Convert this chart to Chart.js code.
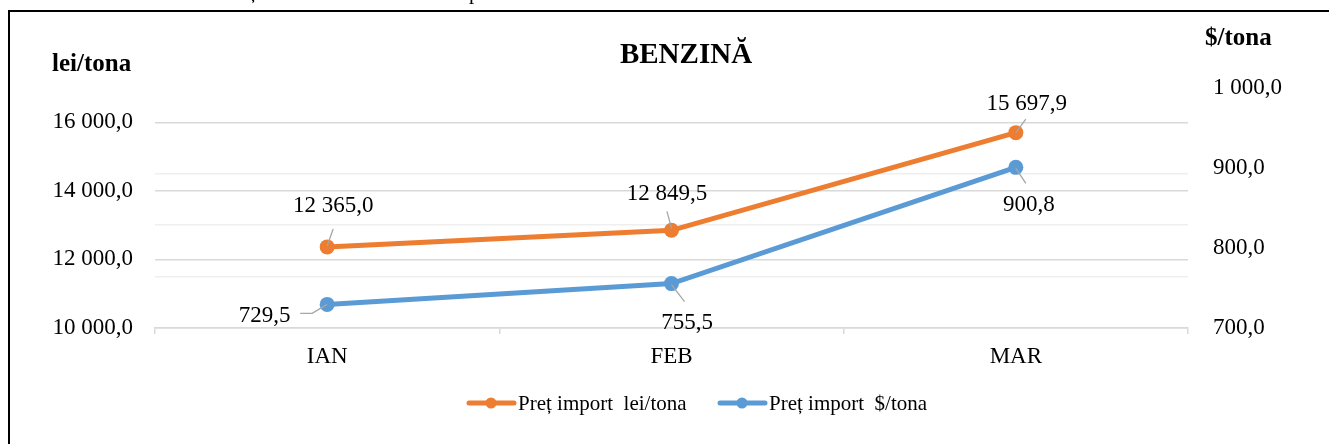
<!DOCTYPE html>
<html lang="ro">
<head>
<meta charset="UTF-8">
<title>Benzină</title>
<script src="https://cdn.jsdelivr.net/npm/chart.js"></script>
<style>
  body { margin: 0; background: #fff; overflow: hidden; }
  #frame { position: absolute; left: 8px; top: 10px; width: 1400px; height: 500px; border-left: 2px solid #000; border-top: 2px solid #000; }
  #wrap { position: absolute; left: 0; top: 0; width: 1329px; height: 444px; }
</style>
</head>
<body>
<div id="frame"></div>
<div id="wrap"><canvas id="chart"></canvas></div>
<script>
// data
const months = ['IAN', 'FEB', 'MAR'];
const priceLei = [12365.0, 12849.5, 15697.9];
const priceUsd = [729.5, 755.5, 900.8];
const seriesNames = ['Preț import  lei/tona', 'Preț import  $/tona'];
const chartTitle = 'BENZINĂ';
const leftAxisTitle = 'lei/tona';
const rightAxisTitle = '$/tona';

// label placement, relative to each point: text centre x, baseline y, leader path
const leiLabelPos = [
  { dx: 6, dy: -35, path: [[6, -18], [0, -1]] },
  { dx: -4.5, dy: -30, path: [[-4.5, -19], [0, -2]] },
  { dx: 11, dy: -22.5, path: [[10, -13.5], [0, 0]] }
];
const usdLabelPos = [
  { dx: -62.5, dy: 18, path: [[-27, 9], [-15, 9], [0, 0]] },
  { dx: 15.5, dy: 45, path: [[0, 1], [13, 18]] },
  { dx: 13, dy: 44, path: [[0, 1], [10, 16]] }
];

const ORANGE = '#ED7D31';
const BLUE = '#5B9BD5';
const SERIF = "'Liberation Serif', 'Times New Roman', serif";

Chart.defaults.font.family = SERIF;
Chart.defaults.color = '#000';

function fmt(v) {
  const parts = v.toFixed(1).split('.');
  return parts[0].replace(/\B(?=(\d{3})+(?!\d))/g, ' ') + ',' + parts[1];
}

const decor = {
  id: 'decor',
  afterDraw(chart) {
    const ctx = chart.ctx;
    ctx.save();
    ctx.fillStyle = '#000';
    ctx.textBaseline = 'alphabetic';

    // bits of the text line above the frame (cut off)
    ctx.font = '21px ' + SERIF;
    ctx.textAlign = 'left';
    ctx.fillText('ș', 249, -1);
    ctx.fillText('p', 469, -1);

    // titles
    ctx.font = 'bold 29px ' + SERIF;
    ctx.textAlign = 'center';
    ctx.fillText(chartTitle, 686, 63);
    ctx.font = 'bold 25px ' + SERIF;
    ctx.textAlign = 'left';
    ctx.fillText(leftAxisTitle, 52, 71);
    ctx.fillText(rightAxisTitle, 1205, 45);

    // data labels with leader lines
    const placements = [leiLabelPos, usdLabelPos];
    chart.data.datasets.forEach((ds, di) => {
      const meta = chart.getDatasetMeta(di);
      meta.data.forEach((pt, i) => {
        const p = placements[di][i];
        ctx.strokeStyle = '#a6a6a6';
        ctx.lineWidth = 1.3;
        ctx.beginPath();
        p.path.forEach((q, k) => {
          if (k === 0) ctx.moveTo(pt.x + q[0], pt.y + q[1]);
          else ctx.lineTo(pt.x + q[0], pt.y + q[1]);
        });
        ctx.stroke();
        ctx.font = '23px ' + SERIF;
        ctx.textAlign = 'center';
        ctx.fillStyle = '#000';
        ctx.fillText(fmt(ds.data[i]), pt.x + p.dx, pt.y + p.dy);
      });
    });

    // legend
    const legendItems = [
      { x: 467, color: ORANGE, text: seriesNames[0] },
      { x: 718, color: BLUE, text: seriesNames[1] }
    ];
    legendItems.forEach(item => {
      ctx.strokeStyle = item.color;
      ctx.lineWidth = 5;
      ctx.lineCap = 'round';
      ctx.beginPath();
      ctx.moveTo(item.x + 2, 403);
      ctx.lineTo(item.x + 47, 403);
      ctx.stroke();
      ctx.fillStyle = item.color;
      ctx.beginPath();
      ctx.arc(item.x + 24, 403, 5.5, 0, Math.PI * 2);
      ctx.fill();
      ctx.fillStyle = '#000';
      ctx.font = '21px ' + SERIF;
      ctx.textAlign = 'left';
      ctx.fillText(item.text, item.x + 51, 410);
    });
    ctx.restore();
  }
};

new Chart(document.getElementById('chart'), {
  type: 'line',
  data: {
    labels: months,
    datasets: [
      {
        label: seriesNames[0], data: priceLei, yAxisID: 'y',
        borderColor: ORANGE, backgroundColor: ORANGE, borderWidth: 5,
        pointRadius: 7.5, pointBorderWidth: 0, pointBackgroundColor: ORANGE, tension: 0
      },
      {
        label: seriesNames[1], data: priceUsd, yAxisID: 'y1',
        borderColor: BLUE, backgroundColor: BLUE, borderWidth: 5,
        pointRadius: 7.5, pointBorderWidth: 0, pointBackgroundColor: BLUE, tension: 0
      }
    ]
  },
  options: {
    responsive: true,
    maintainAspectRatio: false,
    animation: false,
    layout: { padding: { top: 88, left: 0, right: 0, bottom: 0 } },
    plugins: { legend: { display: false }, title: { display: false }, tooltip: { enabled: false } },
    scales: {
      x: {
        offset: true,
        grid: { offset: true, drawOnChartArea: false, drawTicks: true, tickLength: 6, color: '#d9d9d9', lineWidth: 1.5 },
        border: { color: '#d9d9d9', width: 1.5 },
        ticks: { padding: 9, color: '#000', font: { size: 23 } },
        afterFit: s => { s.height = 116; }
      },
      y: {
        position: 'left', min: 10000, max: 17000,
        ticks: {
          stepSize: 500, autoSkip: false, padding: 22, color: '#000', font: { size: 23 },
          callback: v => (v % 2000 === 0 ? fmt(v) : '')
        },
        grid: {
          drawTicks: false, lineWidth: 1.5,
          color: c => {
            const v = c.tick ? c.tick.value : 0;
            if (v % 2000 === 0) return '#d9d9d9';
            if ((v - 10000) % 1500 === 0) return '#efefef';
            return 'rgba(0,0,0,0)';
          }
        },
        border: { display: false },
        afterFit: s => { s.width = 155; }
      },
      y1: {
        position: 'right', min: 700, max: 1000,
        ticks: { stepSize: 100, padding: 25, color: '#000', font: { size: 23 }, callback: v => fmt(v) },
        grid: { display: false, drawTicks: false },
        border: { display: false },
        afterFit: s => { s.width = 141; }
      }
    }
  },
  plugins: [decor]
});
</script>
</body>
</html>
